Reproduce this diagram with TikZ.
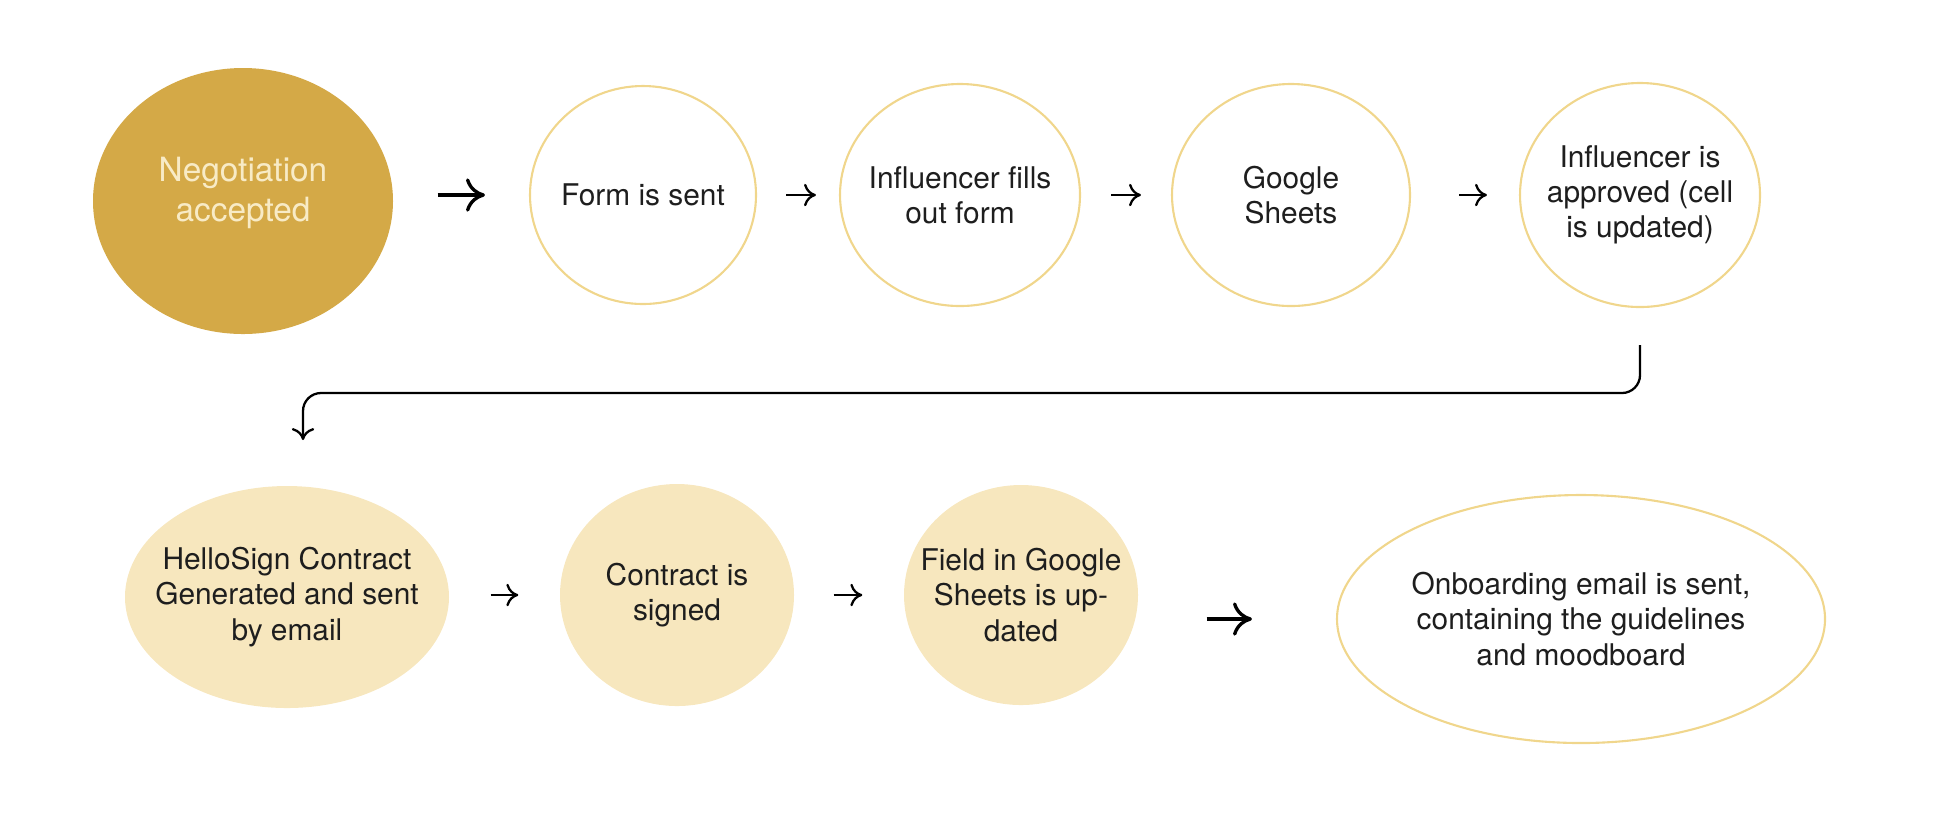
\documentclass[tikz,border=0pt]{standalone}
\usepackage{fontspec}
\setmainfont{TeX Gyre Heros}
\usetikzlibrary{shapes.geometric,arrows.meta}
\definecolor{color1}{HTML}{D4A947}
\definecolor{color2}{HTML}{F0D68C}
\definecolor{color3}{HTML}{F7E7BE}
\definecolor{color4}{HTML}{F8EBC6}
\definecolor{color5}{HTML}{1E1E1E}

\begin{document}
\begin{tikzpicture}[
	stage/.style={ellipse, inner sep=0pt},
	open/.style={stage, draw=color2, line width=0.6pt},
	filled/.style={stage, fill=color3},
	every label/.style={align=center, text=color5, font=\fontsize{8.5}{10}\selectfont},
	flow/.style={line width=0.65pt, -{To[length=3.4pt, width=6.4pt]}},
	bigflow/.style={line width=0.95pt, -{To[length=5.4pt, width=9.5pt]}}
	]
		\useasboundingbox (0,0) rectangle (19.38,-8.36);
		% Negotiation
		\node[stage, fill=color1,
		minimum width=3cm,
		minimum height=2.66cm,
		label={[yshift=0.08cm, font=\fontsize{9.5}{11.4}\selectfont, text=color4]center:{Negotiation\\accepted}}
		] (nego) at (2.43,-2.01) {};
		% Form
		\node[open,
		minimum width=2.26cm,
		minimum height=2.18cm,
		label={center:{Form is sent}}
		] (form) at (6.43,-1.95) {};
		% Fills out form
		\node[open,
		minimum width=2.4cm,
		minimum height=2.22cm,
		label={center:{Influencer fills\\out form}}
		] (fills) at (9.6,-1.95) {};
		% Sheets
		\node[open,
		minimum width=2.38cm,
		minimum height=2.22cm,
		label={center:{Google\\Sheets}}
		] (sheets) at (12.91,-1.95) {};
		% Approved
		\node[open,
		minimum width=2.4cm,
		minimum height=2.24cm,
		label={center:{Influencer is\\approved (cell\\is updated)}}
		] (approved) at (16.4,-1.95) {};

		% HelloSign
		\node[filled,
		minimum width=3.24cm,
		minimum height=2.22cm,
		label={center:{HelloSign Contract\\Generated and sent\\by email}}
		] (hello) at (2.87,-5.97) {};
		% Signed
		\node[filled,
		minimum width=2.34cm,
		minimum height=2.22cm,
		label={center:{Contract is\\signed}}
		] (signed) at (6.77,-5.95) {};
		% Field
		\node[filled,
		minimum width=2.34cm,
		minimum height=2.2cm,
		label={center:{Field in Google\\Sheets is up-\\dated}}
		] (field) at (10.21,-5.95) {};
		% Onboarding
		\node[open,
		minimum width=4.88cm,
		minimum height=2.48cm,
		label={center:{Onboarding email is sent,\\containing the guidelines\\and moodboard}}
		] (onboard) at (15.81,-6.19) {};

		% top row arrows
		\draw [bigflow, shorten <=4.4mm, shorten >=4.4mm] (nego.east |- form.west) -- (form.west);
		\draw [flow, shorten <=2.9mm, shorten >=2.3mm] (form.east) -- (fills.west);
		\draw [flow, shorten <=3mm, shorten >=3mm] (fills.east) -- (sheets.west);
		\draw [flow, shorten <=4.8mm, shorten >=3.2mm] (sheets.east) -- (approved.west);

		% turn down to second row
		\coordinate (drop) at (3.03,-3.93);
		\coordinate (tip) at (3.03,-4.4);
		\draw [flow,
		rounded corners=1.8mm
		] ([yshift=-3.7mm]approved.south) |- (drop) -- (tip);

		% bottom row arrows
		\draw [flow, shorten <=4.1mm, shorten >=4.1mm] (hello.east |- signed.west) -- (signed.west);
		\draw [flow, shorten <=3.9mm, shorten >=4.1mm] (signed.east) -- (field.west);
		\draw [bigflow, shorten <=6.8mm, shorten >=8.4mm] (field.east |- onboard.west) -- (onboard.west);
\end{tikzpicture}
\end{document}
